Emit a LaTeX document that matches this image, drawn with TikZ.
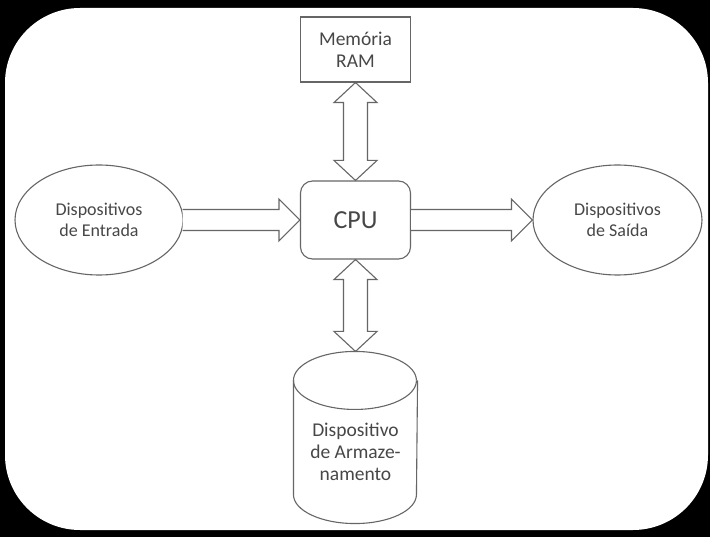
\documentclass[tikz,border=0pt]{standalone}
\usepackage{fontspec}
\setmainfont{Carlito}
\usepackage{tikz}
\usetikzlibrary{calc, shapes.geometric}

\tikzset{
    comp/.style={draw=black!60, line width=1.1pt, text=black!72, align=center, inner sep=0pt,
        font=\fontsize{18}{21.5}\selectfont},
    blk/.style={draw=black!60, line width=1.1pt, line join=miter, fill=white},
}

\begin{document}
\begin{tikzpicture}[x=1pt, y=-1pt]
        \useasboundingbox (0,0) rectangle (710,537);
        \fill[black] (0,0) rectangle (710,537);
        \fill[white, rounded corners=75pt] (5,8) rectangle (708,530);

        % blocos
        \node[comp, minimum width=110pt, minimum height=65pt,
            font=\fontsize{19.5}{22}\selectfont] (ram) at (355.5,49.5) {Memória\\RAM};
        \node[comp, rounded corners=12pt, minimum width=110pt, minimum height=78pt,
            font=\fontsize{26}{30}\selectfont] (cpu) at (355.5,220) {CPU};
        \node[comp, ellipse, minimum width=168pt, minimum height=110pt] (ent) at (99,220) {Dispositivos\\de Entrada};
        \node[comp, ellipse, minimum width=169pt, minimum height=110pt] (sai) at (617.5,220) {Dispositivos\\de Saída};
        \node[comp, draw=none, minimum width=123pt, minimum height=142pt,
            font=\fontsize{19.5}{22}\selectfont] (arm) at (355.5,452) {Dispositivo\\de Armaze-\\namento};

        % cilindro
        \draw[black!60, line width=1.1pt] (arm.north west) arc (180:0:61.5pt and 29pt);
        \draw[black!60, line width=1.1pt] (arm.north west) arc (180:360:61.5pt and 29pt);
        \draw[black!60, line width=1.1pt] (arm.north west)
            -- ($(arm.south west)+(0,-29)$) arc (180:360:61.5pt and 29pt) -- (arm.north east);
        \coordinate (armtop) at ($(arm.north)+(0,-29)$);

        % setas
        \draw[blk] let \p1=(ent.east), \p2=(cpu.west) in
            (\x1-1pt,\y1-10.5pt) -- (\x2-21pt,\y1-10.5pt) -- (\x2-21pt,\y1-21pt) -- (\x2,\y1)
            -- (\x2-21pt,\y1+21pt) -- (\x2-21pt,\y1+10.5pt) -- (\x1-1pt,\y1+10.5pt);
        \draw[blk] let \p1=(cpu.east), \p2=(sai.west) in
            (\x1,\y1-10.5pt) -- (\x2-21pt,\y1-10.5pt) -- (\x2-21pt,\y1-21pt) -- (\x2,\y1)
            -- (\x2-21pt,\y1+21pt) -- (\x2-21pt,\y1+10.5pt) -- (\x1,\y1+10.5pt);

        \draw[blk] let \p1=(ram.south), \p2=(cpu.north) in
            (\x1,\y1) -- (\x1+21.5pt,\y1-20pt) -- (\x1+12pt,\y1-20pt) -- (\x1+12pt,\y2+20pt)
            -- (\x1+21.5pt,\y2+20pt) -- (\x2,\y2) -- (\x1-21.5pt,\y2+20pt) -- (\x1-12pt,\y2+20pt)
            -- (\x1-12pt,\y1-20pt) -- (\x1-21.5pt,\y1-20pt) -- cycle;
        \draw[blk] let \p1=(cpu.south), \p2=(armtop) in
            (\x1,\y1) -- (\x1+21.5pt,\y1-20pt) -- (\x1+12pt,\y1-20pt) -- (\x1+12pt,\y2+20pt)
            -- (\x1+21.5pt,\y2+20pt) -- (\x2,\y2) -- (\x1-21.5pt,\y2+20pt) -- (\x1-12pt,\y2+20pt)
            -- (\x1-12pt,\y1-20pt) -- (\x1-21.5pt,\y1-20pt) -- cycle;
\end{tikzpicture}
\end{document}
